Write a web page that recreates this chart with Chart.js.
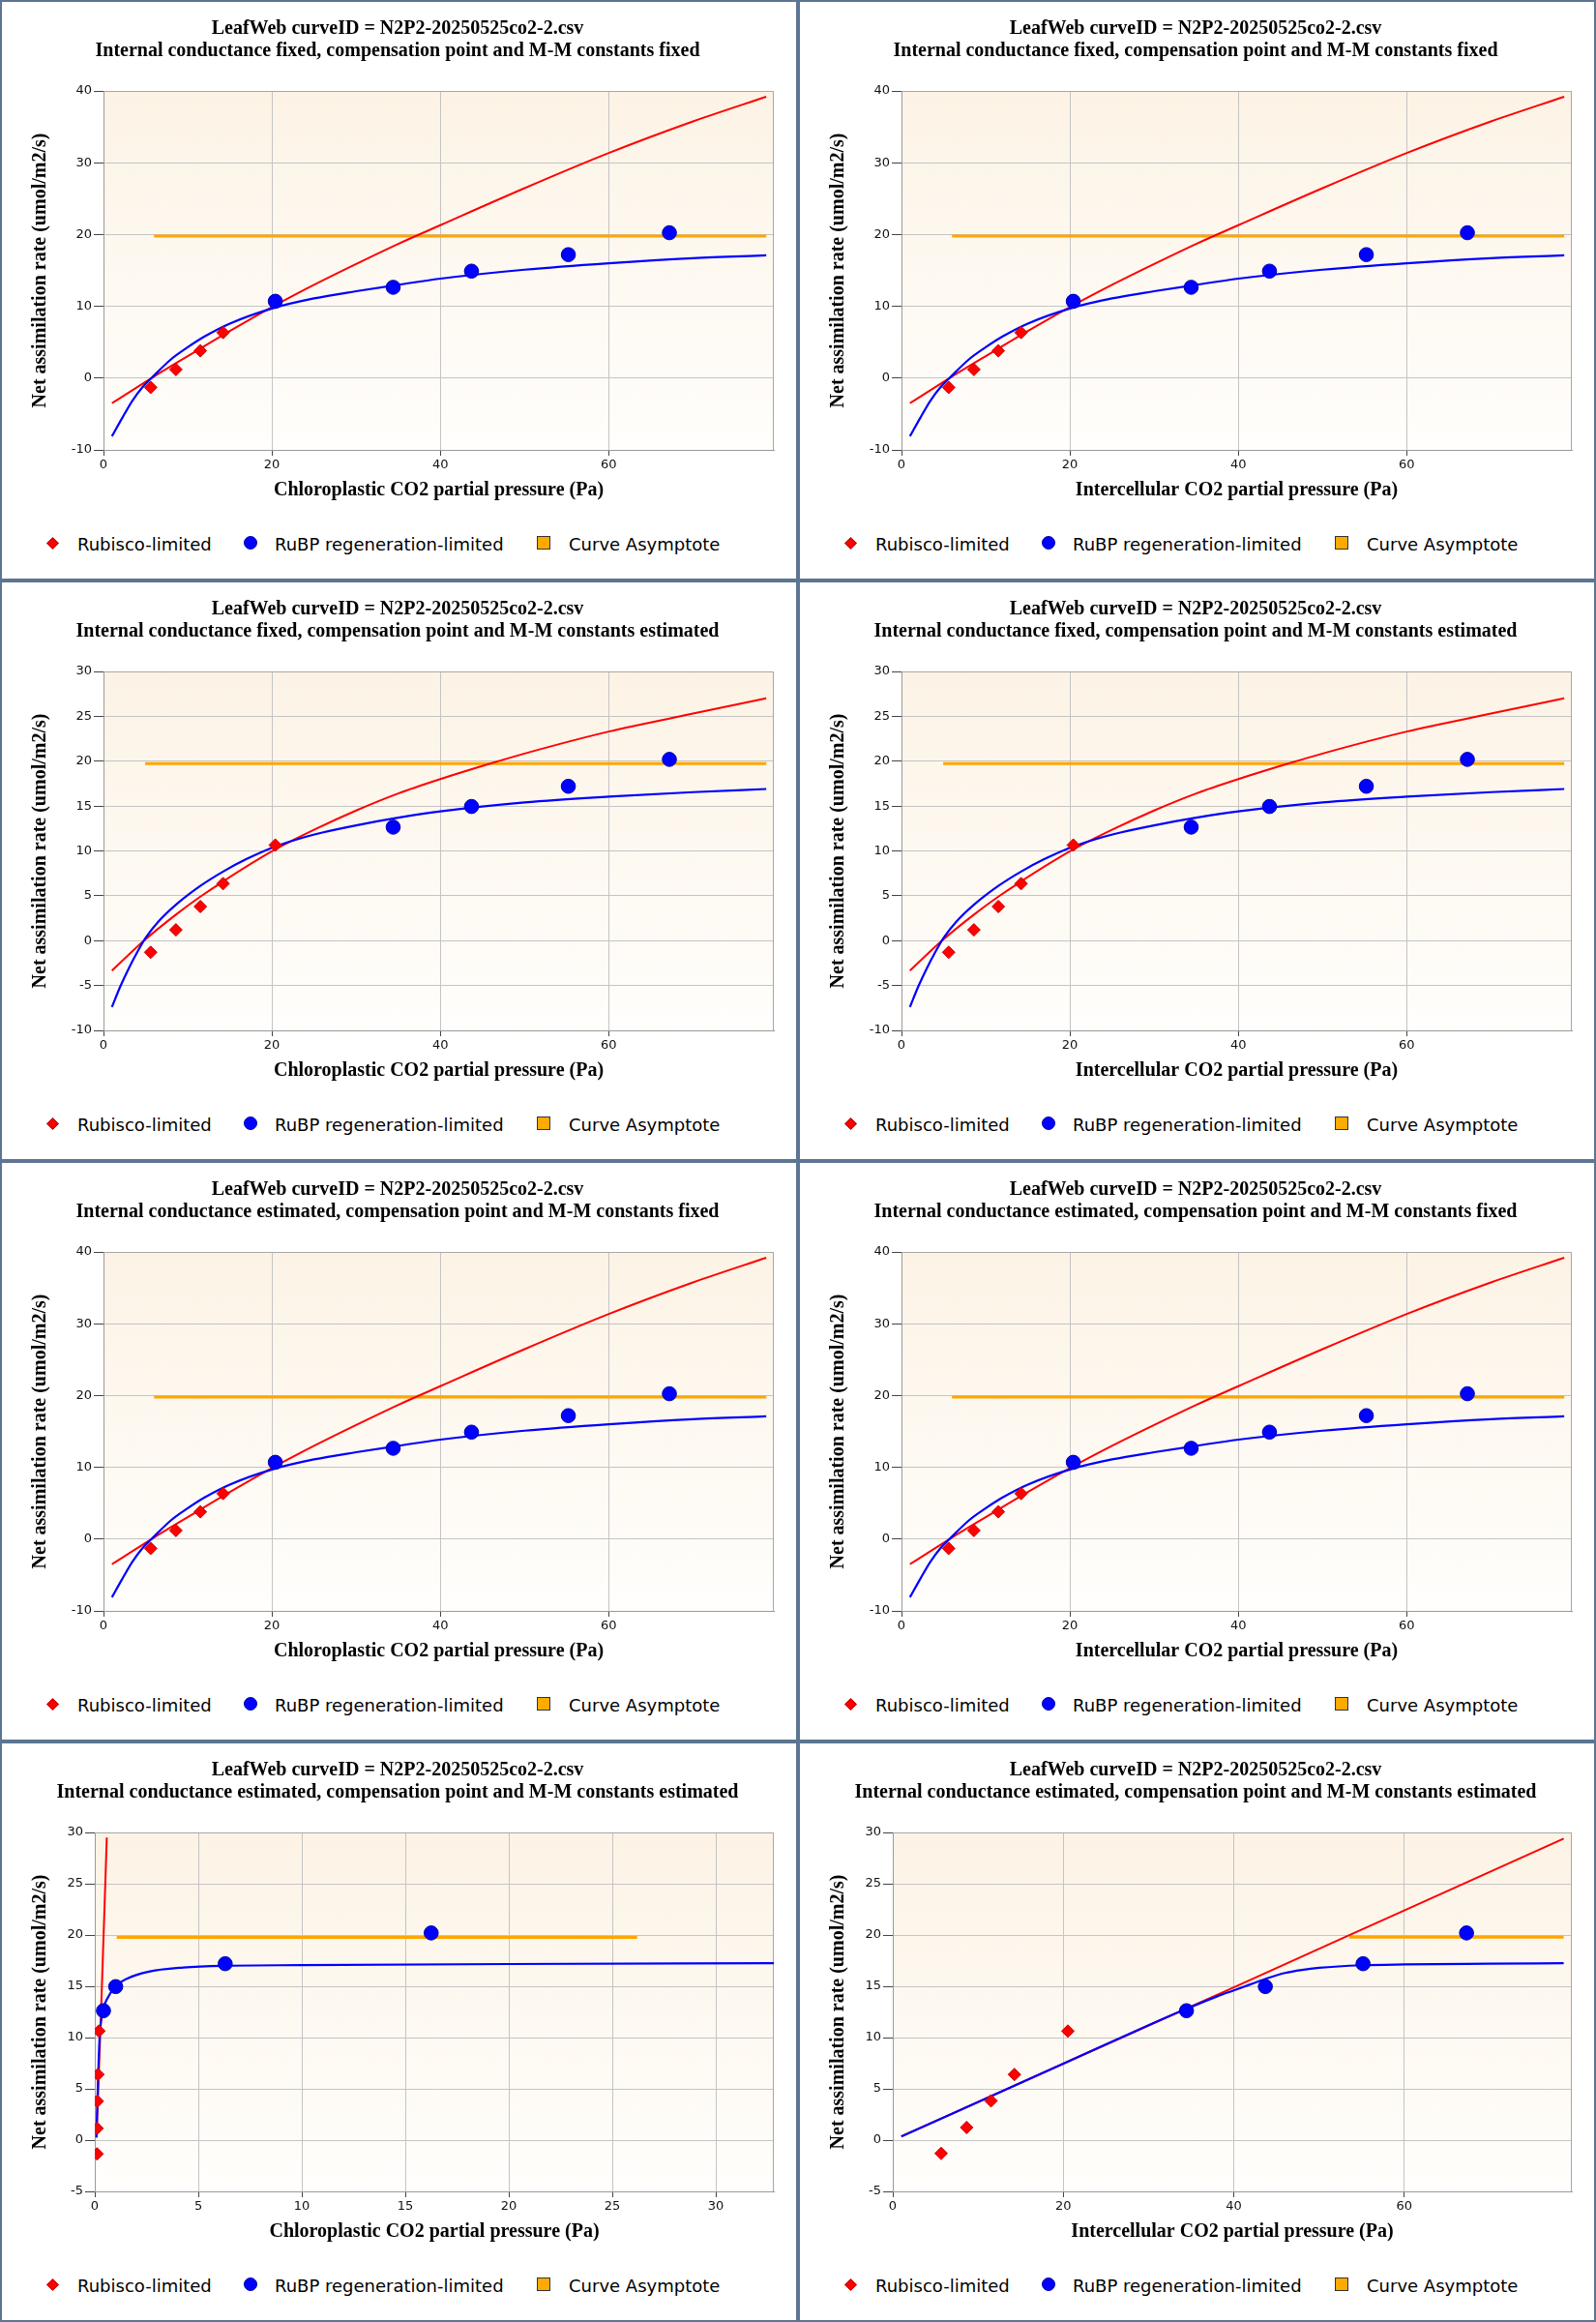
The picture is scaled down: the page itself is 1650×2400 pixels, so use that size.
<!DOCTYPE html>
<html>
<head>
<meta charset="utf-8">
<title>LeafWeb fits</title>
<script src="https://cdn.jsdelivr.net/npm/chart.js@4.4.1/dist/chart.umd.min.js"></script>
<style>
  html, body { margin: 0; padding: 0; background: #fff; }
  #grid {
    width: 1650px; height: 2400px;
    display: grid;
    grid-template-columns: 825px 825px;
    grid-template-rows: repeat(4, 600px);
  }
  .panel { position: relative; box-sizing: border-box; border: 2px solid #5c7592; background: #fff; }
  .panel canvas { position: absolute; left: 0; top: 0; }
  .lg-text { position: absolute; top: 549px; font: 18px "DejaVu Sans"; line-height: 24px; color: #000; white-space: nowrap; }
  .lg-mark { position: absolute; box-sizing: border-box; }
  .lg-diamond { width: 9px; height: 9px; left: 47.5px; top: 554.8px; background: #ff0000; border: 1px solid #c00000; transform: rotate(45deg); }
  .lg-circle { width: 14px; height: 14px; left: 250px; top: 552.3px; border-radius: 50%; background: #0000ff; border: 1px solid #0000b0; }
  .lg-square { width: 14px; height: 14px; left: 553px; top: 552.3px; background: #ffaa00; border: 1px solid #333; }
</style>
</head>
<body>
<div id="grid"></div>
<script>

// ---- tick labels ----
const xTicksWide = [0, 20, 40, 60];
const xTicksNarrow = [0, 5, 10, 15, 20, 25, 30];
const yTicks40 = [-10, 0, 10, 20, 30, 40];
const yTicks30 = [-10, -5, 0, 5, 10, 15, 20, 25, 30];
const yTicks30b = [-5, 0, 5, 10, 15, 20, 25, 30];

// ---- rows 1 and 3: compensation point and M-M constants fixed ----
const rubiscoX_A = [5.6, 8.6, 11.5, 14.2];
const rubiscoY_A = [-1.3, 1.2, 3.8, 6.35];
const rubpX_A = [20.4, 34.4, 43.7, 55.2, 67.2];
const rubpY_A = [10.7, 12.65, 14.9, 17.2, 20.25];
const rubiscoFitX_A = [1.0, 5.7, 10, 15, 20, 25, 30, 35, 40, 50, 60, 70, 78.7];
const rubiscoFitY_A = [-3.5, 0, 3.05, 6.55, 9.9, 13.0, 15.9, 18.7, 21.3, 26.45, 31.35, 35.75, 39.2];
const rubpFitX_A = [1.0, 2.2, 3.4, 4.6, 5.7, 8, 10, 12, 15, 20, 25, 30, 35, 40, 50, 60, 70, 78.7];
const rubpFitY_A = [-8.1, -5.6, -3.2, -1.3, 0, 2.6, 4.3, 5.8, 7.6, 9.7, 11.1, 12.1, 13.0, 13.85, 15.1, 16.0, 16.7, 17.1];
const asymX_A = [6.0, 78.7];
const asymY_A = [19.78, 19.78];

// ---- row 2: compensation point and M-M constants estimated ----
const rubiscoX_B = [5.6, 8.6, 11.5, 14.2, 20.4];
const rubiscoY_B = [-1.3, 1.2, 3.8, 6.35, 10.65];
const rubpX_B = [34.4, 43.7, 55.2, 67.2];
const rubpY_B = [12.65, 14.95, 17.2, 20.2];
const rubiscoFitX_B = [1.0, 4.8, 8.6, 11.5, 14.2, 20, 25, 30, 35, 40, 46, 50, 60, 70, 78.7];
const rubiscoFitY_B = [-3.35, 0, 2.9, 4.9, 6.6, 9.95, 12.35, 14.5, 16.4, 18.0, 19.75, 20.85, 23.3, 25.3, 27.0];
const rubpFitX_B = [1.0, 2, 3, 4, 5, 6.5, 8.6, 11.5, 14.2, 17, 20, 23, 26, 30, 35, 40, 50, 60, 70, 78.7];
const rubpFitY_B = [-7.4, -5.1, -3.1, -1.3, 0.3, 2.1, 4.0, 6.1, 7.7, 9.1, 10.35, 11.3, 12.05, 12.85, 13.7, 14.4, 15.4, 16.05, 16.55, 16.9];
const asymX_B = [4.95, 78.7];
const asymY_B = [19.74, 19.74];

// ---- row 4 left: everything estimated, chloroplastic ----
const rubiscoX_C = [0.11, 0.11, 0.12, 0.15, 0.2];
const rubiscoY_C = [-1.35, 1.15, 3.8, 6.4, 10.63];
const rubpX_C = [0.42, 1.01, 6.3, 16.25];
const rubpY_C = [12.62, 14.97, 17.2, 20.2];
const rubiscoFitX_C = [0.08, 0.3, 0.58];
const rubiscoFitY_C = [0.3, 12.4, 29.5];
const rubpFitX_C = [0.08, 0.16, 0.23, 0.39, 0.63, 1.01, 1.57, 2.56, 4.28, 6.3, 10, 20, 32.8];
const rubpFitY_C = [0.25, 6.1, 9.9, 12.6, 13.9, 15.0, 15.76, 16.41, 16.83, 17.0, 17.06, 17.17, 17.25];
const asymX_C = [1.06, 26.2];
const asymY_C = [19.76, 19.76];

// ---- row 4 right: everything estimated, intercellular ----
const rubiscoX_D = [5.67, 8.66, 11.52, 14.27, 20.54];
const rubiscoY_D = [-1.3, 1.23, 3.83, 6.4, 10.63];
const rubpX_D = [34.45, 43.7, 55.16, 67.3];
const rubpY_D = [12.62, 14.97, 17.2, 20.2];
const rubiscoFitX_D = [1.0, 20, 40, 60, 78.7];
const rubiscoFitY_D = [0.36, 7.45, 14.9, 22.4, 29.4];
const rubpFitX_D = [1.0, 20, 30, 34.45, 38, 40, 42, 44, 46, 48, 50, 55, 60, 70, 78.7];
const rubpFitY_D = [0.36, 7.45, 11.2, 12.8, 14.0, 14.6, 15.2, 15.8, 16.3, 16.6, 16.8, 17.05, 17.13, 17.2, 17.25];
const asymX_D = [53.55, 78.7];
const asymY_D = [19.78, 19.78];

const titleLine1 = "LeafWeb curveID = N2P2-20250525co2-2.csv";
const ccTitle = "Chloroplastic CO2 partial pressure (Pa)";
const ciTitle = "Intercellular CO2 partial pressure (Pa)";
const yTitle = "Net assimilation rate (umol/m2/s)";

const setA = {rx: rubiscoX_A, ry: rubiscoY_A, px: rubpX_A, py: rubpY_A, rfx: rubiscoFitX_A, rfy: rubiscoFitY_A, pfx: rubpFitX_A, pfy: rubpFitY_A, ax: asymX_A, ay: asymY_A};
const setB = {rx: rubiscoX_B, ry: rubiscoY_B, px: rubpX_B, py: rubpY_B, rfx: rubiscoFitX_B, rfy: rubiscoFitY_B, pfx: rubpFitX_B, pfy: rubpFitY_B, ax: asymX_B, ay: asymY_B};
const setC = {rx: rubiscoX_C, ry: rubiscoY_C, px: rubpX_C, py: rubpY_C, rfx: rubiscoFitX_C, rfy: rubiscoFitY_C, pfx: rubpFitX_C, pfy: rubpFitY_C, ax: asymX_C, ay: asymY_C};
const setD = {rx: rubiscoX_D, ry: rubiscoY_D, px: rubpX_D, py: rubpY_D, rfx: rubiscoFitX_D, rfy: rubiscoFitY_D, pfx: rubpFitX_D, pfy: rubpFitY_D, ax: asymX_D, ay: asymY_D};

const panels = [
    {sub: "Internal conductance fixed, compensation point and M-M constants fixed", xt: ccTitle, d: setA, xmax: 79.6, xticks: xTicksWide, ymin: -10, ymax: 40, yticks: yTicks40, yw: 85},
    {sub: "Internal conductance fixed, compensation point and M-M constants fixed", xt: ciTitle, d: setA, xmax: 79.6, xticks: xTicksWide, ymin: -10, ymax: 40, yticks: yTicks40, yw: 85},
    {sub: "Internal conductance fixed, compensation point and M-M constants estimated", xt: ccTitle, d: setB, xmax: 79.6, xticks: xTicksWide, ymin: -10, ymax: 30, yticks: yTicks30, yw: 85},
    {sub: "Internal conductance fixed, compensation point and M-M constants estimated", xt: ciTitle, d: setB, xmax: 79.6, xticks: xTicksWide, ymin: -10, ymax: 30, yticks: yTicks30, yw: 85},
    {sub: "Internal conductance estimated, compensation point and M-M constants fixed", xt: ccTitle, d: setA, xmax: 79.6, xticks: xTicksWide, ymin: -10, ymax: 40, yticks: yTicks40, yw: 85},
    {sub: "Internal conductance estimated, compensation point and M-M constants fixed", xt: ciTitle, d: setA, xmax: 79.6, xticks: xTicksWide, ymin: -10, ymax: 40, yticks: yTicks40, yw: 85},
    {sub: "Internal conductance estimated, compensation point and M-M constants estimated", xt: ccTitle, d: setC, xmax: 32.8, xticks: xTicksNarrow, ymin: -5, ymax: 30, yticks: yTicks30b, yw: 76},
    {sub: "Internal conductance estimated, compensation point and M-M constants estimated", xt: ciTitle, d: setD, xmax: 79.65, xticks: xTicksWide, ymin: -5, ymax: 30, yticks: yTicks30b, yw: 76}
];

function zip(xs, ys){
    return xs.map((x, i) => ({x: x, y: ys[i]}));
}

// beige-to-white plot background plus the frame on the top and right
const plotBackground = {
    id: "plotBackground",
    beforeDraw(chart){
        const {ctx, chartArea: a} = chart;
        const g = ctx.createLinearGradient(0, a.top, 0, a.bottom);
        g.addColorStop(0, "rgb(252,243,229)");
        g.addColorStop(1, "rgb(255,254,252)");
        ctx.save();
        ctx.fillStyle = g;
        ctx.fillRect(a.left, a.top, a.right - a.left, a.bottom - a.top);
        ctx.restore();
    },
    beforeDatasetsDraw(chart){
        const {ctx, chartArea: a} = chart;
        ctx.save();
        ctx.strokeStyle = "#a8a8a8";
        ctx.lineWidth = 1;
        ctx.beginPath();
        ctx.moveTo(a.left, a.top + 0.5);
        ctx.lineTo(a.right - 0.5, a.top + 0.5);
        ctx.lineTo(a.right - 0.5, a.bottom);
        ctx.stroke();
        ctx.restore();
    }
};

const serif = "'Liberation Serif', 'Times New Roman', serif";
const sans = "'DejaVu Sans', sans-serif";

function addLegend(panel){
    panel.insertAdjacentHTML("beforeend",
        '<div class="lg-mark lg-diamond"></div><div class="lg-text" style="left:78px">Rubisco-limited</div>' +
        '<div class="lg-mark lg-circle"></div><div class="lg-text" style="left:282px">RuBP regeneration-limited</div>' +
        '<div class="lg-mark lg-square"></div><div class="lg-text" style="left:586px">Curve Asymptote</div>');
}

function makeChart(p){

    const panel = document.createElement("div");
    panel.className = "panel";
    const canvas = document.createElement("canvas");
    canvas.width = 821;
    canvas.height = 530;
    panel.appendChild(canvas);
    addLegend(panel);
    document.getElementById("grid").appendChild(panel);

    const d = p.d;

    new Chart(canvas, {
        type: "scatter",
        data: {
            datasets: [
                {
                    label: "Rubisco-limited",
                    data: zip(d.rx, d.ry),
                    pointStyle: "rectRot",
                    pointRadius: 6.5,
                    backgroundColor: "#ff0000",
                    borderColor: "#c80000",
                    borderWidth: 1,
                    order: 0
                },
                {
                    label: "RuBP regeneration-limited",
                    data: zip(d.px, d.py),
                    pointStyle: "circle",
                    pointRadius: 7.3,
                    backgroundColor: "#0000ff",
                    borderColor: "#0000b4",
                    borderWidth: 1,
                    order: 1
                },
                {
                    label: "RuBP fit",
                    data: zip(d.pfx, d.pfy),
                    showLine: true,
                    pointRadius: 0,
                    borderColor: "#0000ff",
                    borderWidth: 2.2,
                    cubicInterpolationMode: "monotone",
                    order: 2
                },
                {
                    label: "Rubisco fit",
                    data: zip(d.rfx, d.rfy),
                    showLine: true,
                    pointRadius: 0,
                    borderColor: "#ff0000",
                    borderWidth: 2,
                    cubicInterpolationMode: "monotone",
                    order: 3
                },
                {
                    label: "Curve Asymptote",
                    data: zip(d.ax, d.ay),
                    showLine: true,
                    pointRadius: 0,
                    borderColor: "#ffa500",
                    borderWidth: 3,
                    order: 4
                }
            ]
        },
        options: {
            responsive: false,
            animation: false,
            devicePixelRatio: 1,
            layout: { padding: { left: 20, right: 23, top: 0, bottom: 10 } },
            plugins: {
                legend: { display: false },
                tooltip: { enabled: false },
                title: {
                    display: true,
                    text: [titleLine1, p.sub],
                    color: "#000",
                    font: { family: serif, size: 20, weight: "bold", lineHeight: 1.15 },
                    padding: { top: 16.5, bottom: 29.5 }
                }
            },
            scales: {
                x: {
                    type: "linear",
                    min: 0,
                    max: p.xmax,
                    afterBuildTicks: s => { s.ticks = p.xticks.map(v => ({value: v})); },
                    afterFit: s => { s.height = 57; },
                    grid: { color: "#c4c4c4", tickLength: 6, tickColor: "#444" },
                    border: { color: "#9a9a9a" },
                    ticks: { color: "#111", padding: 2, font: { family: sans, size: 13 } },
                    title: {
                        display: true,
                        text: p.xt,
                        color: "#000",
                        font: { family: serif, size: 20, weight: "bold" },
                        padding: { top: 3, bottom: 3 }
                    }
                },
                y: {
                    type: "linear",
                    min: p.ymin,
                    max: p.ymax,
                    afterBuildTicks: s => { s.ticks = p.yticks.map(v => ({value: v})); },
                    afterFit: s => { s.width = p.yw; },
                    grid: { color: "#c4c4c4", tickLength: 10, tickColor: "#444" },
                    border: { color: "#9a9a9a" },
                    ticks: { color: "#111", padding: 2, font: { family: sans, size: 13 } },
                    title: {
                        display: true,
                        text: yTitle,
                        color: "#000",
                        font: { family: serif, size: 20, weight: "bold" },
                        padding: { top: 8, bottom: 3 }
                    }
                }
            }
        },
        plugins: [plotBackground]
    });

}

document.addEventListener("DOMContentLoaded", () => {
    panels.forEach(p => makeChart(p));
});

</script>
</body>
</html>
